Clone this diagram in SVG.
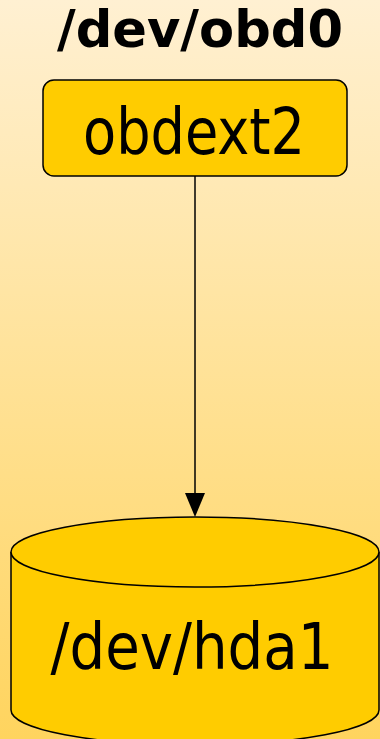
<svg xmlns="http://www.w3.org/2000/svg" width="380" height="739" viewBox="0 0 380 739">
<defs>
<linearGradient id="bg" x1="0" y1="0" x2="0" y2="1">
<stop offset="0" stop-color="#FFF0D2"/>
<stop offset="1" stop-color="#FFD45E"/>
</linearGradient>
</defs>
<style>
.shape{fill:#FFCC00;stroke:#000;stroke-width:1.5}
.t{font-family:"DejaVu Sans","Verdana",sans-serif;fill:#000;text-anchor:middle}
</style>
<rect width="380" height="739" fill="url(#bg)"/>
<text id="title" class="t" x="200" y="47" font-size="52" font-weight="bold" textLength="286" lengthAdjust="spacingAndGlyphs">/dev/obd0</text>
<g id="connectors">
<line x1="195" y1="176" x2="195" y2="493" stroke="#000" stroke-width="1.5"/>
<path d="M185,493 L205,493 L195,517 Z" fill="#000"/>
</g>
<g id="obdext2">
<rect class="shape" x="43" y="80" width="304" height="96" rx="11"/>
<text class="t" x="194" y="154" font-size="64" textLength="222" lengthAdjust="spacingAndGlyphs">obdext2</text>
</g>
<g id="hda1">
<path class="shape" d="M11,552 L11,710 A184,35 0 0 0 379,710 L379,552"/>
<ellipse class="shape" cx="195" cy="552" rx="184" ry="35"/>
<text class="t" x="192" y="669" font-size="64" textLength="283" lengthAdjust="spacingAndGlyphs">/dev/hda1</text>
</g>
</svg>
